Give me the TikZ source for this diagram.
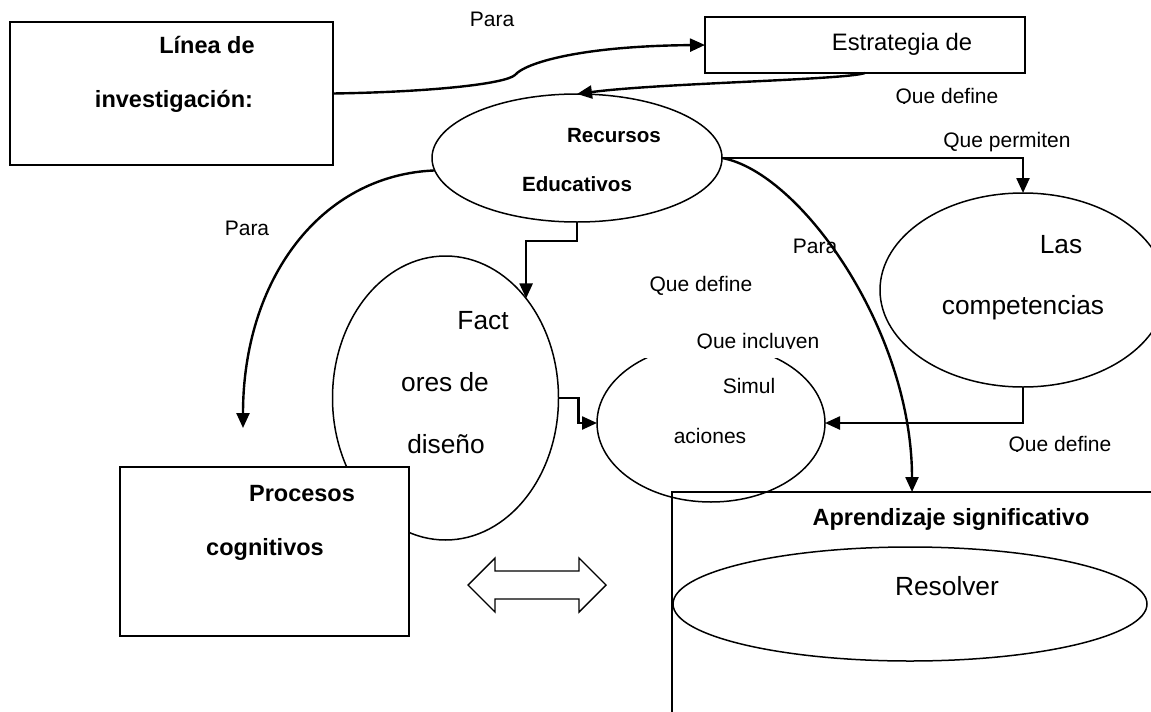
\documentclass[tikz,border=0pt]{standalone}
\usepackage{fontspec}
\setmainfont{Liberation Sans}
\usetikzlibrary{arrows.meta,calc,shapes.geometric}
\begin{document}
\begin{tikzpicture}[x=1pt,y=-1pt,
  boxshape/.style={draw=black, line width=1.8pt, rectangle, inner sep=0pt, outer sep=0pt},
  ellshape/.style={draw=black, line width=1.5pt, ellipse, inner sep=0pt, outer sep=0pt},
  conn/.style={line width=2.4pt, -{Triangle[length=15pt,width=13pt]}},
  lbl/.style={font=\fontsize{21}{25}\selectfont, inner sep=0pt, anchor=base},
  big/.style={font=\fontsize{26.3}{30}\selectfont, inner sep=0pt, anchor=base},
  mid/.style={font=\fontsize{23.8}{28}\selectfont, inner sep=0pt, anchor=base},
  bold/.style={font=\fontsize{23.5}{28}\selectfont\bfseries, inner sep=0pt, anchor=base},
  boldsmall/.style={font=\fontsize{20.6}{25}\selectfont\bfseries, inner sep=0pt, anchor=base},
]
\clip (0,0) rectangle (1151,712);
\fill[white] (0,0) rectangle (1151,712);

% shapes
\node[ellshape, minimum width=226pt, minimum height=284pt] (fac) at (445.5,398) {};
\node[ellshape, minimum width=228pt, minimum height=158pt] (sim) at (711,423) {};
\fill[white] (640,326) rectangle (832,358);
\node[boxshape, fill=white, minimum width=289pt, minimum height=169pt] (pro) at (264.5,551.5) {};
\node[boxshape, line width=2pt, minimum width=500pt, minimum height=240pt] (apr) at (922,612) {};
\node[ellshape, minimum width=474pt, minimum height=114pt] (res) at (910,604) {};
\node[ellshape, minimum width=290pt, minimum height=128pt] (rec) at (577,158) {};
\node[ellshape, minimum width=286pt, minimum height=194pt] (las) at (1023,290) {};
\node[boxshape, minimum width=323pt, minimum height=143pt] (lin) at (171.5,93.5) {};
\node[boxshape, minimum width=320pt, minimum height=56pt] (est) at (865,45) {};

% double arrow
\draw[line width=1.4pt, line join=miter] (468,585) -- (495,558) -- (495,571) -- (579,571) -- (579,558)
  -- (606,585) -- (579,612) -- (579,599) -- (495,599) -- (495,612) -- cycle;

% connectors
\coordinate (proarr) at ($(pro.north west)+(123,-39)$);
\coordinate (aprtop) at ($(apr.north west)+(240,0)$);
\draw[conn] (lin.east) .. controls (430,92) and (505,84) .. (515,75)
  .. controls (525,63) and (580,46) .. (est.west);
\draw[conn] (est.south) .. controls (845,80) and (660,83) .. (rec.north);
\draw[conn] (rec.185) .. controls (320,175) and (243,280) .. (proarr);
\draw[conn] (rec.south) -- ++(0,19) -| (fac.51);
\draw[conn] (fac.east) -- ++(20,0) |- (sim.west);
\draw[conn] (rec.east) -| (las.north);
\draw[conn] (rec.east) .. controls (800,172) and (912,330) .. (aprtop);
\draw[conn] (las.south) |- (sim.east);

% texts
\node[lbl] (tpara1) at (492,27) {Para};
\node[bold] (tlinea) at (207,53) {Línea de};
\node[bold] (tinv) at (174,107) {investigación:};
\node[mid] (testr) at (902,50) {Estrategia de};
\begin{scope}
\clip (880,80) rectangle (1010,103.5);
\node[lbl] (tqdef1) at (947,103) {Que define};
\end{scope}
\node[boldsmall] (trec) at (614,142) {Recursos};
\node[boldsmall] (tedu) at (577,191) {Educativos};
\node[lbl] (tqperm) at (1007,147) {Que permiten};
\node[lbl] (tpara2) at (247,235) {Para};
\node[lbl] (tpara3) at (815,253) {Para};
\node[big] (tlas) at (1061,253) {Las};
\node[big] (tcomp) at (1023,314) {competencias};
\node[lbl] (tqdef2) at (701,291) {Que define};
\node[big] (tfact) at (483,329) {Fact};
\node[big] (tores) at (445,391) {ores de};
\node[big] (tdis) at (446,453) {diseño};
\begin{scope}
\clip (680,320) rectangle (840,348.5);
\node[lbl] (tqinc) at (758,348) {Que incluyen};
\end{scope}
\node[lbl] (tsimul) at (749,393) {Simul};
\node[lbl] (tacion) at (710,443) {aciones};
\begin{scope}
\clip (1000,425) rectangle (1125,451.5);
\node[lbl] (tqdef3) at (1060,451) {Que define};
\end{scope}
\node[bold] (tproc) at (302,501) {Procesos};
\node[bold] (tcogn) at (265,555) {cognitivos};
\node[bold] (tapr) at (951,525) {Aprendizaje significativo};
\node[big] (tres) at (947,595) {Resolver};
\end{tikzpicture}
\end{document}
